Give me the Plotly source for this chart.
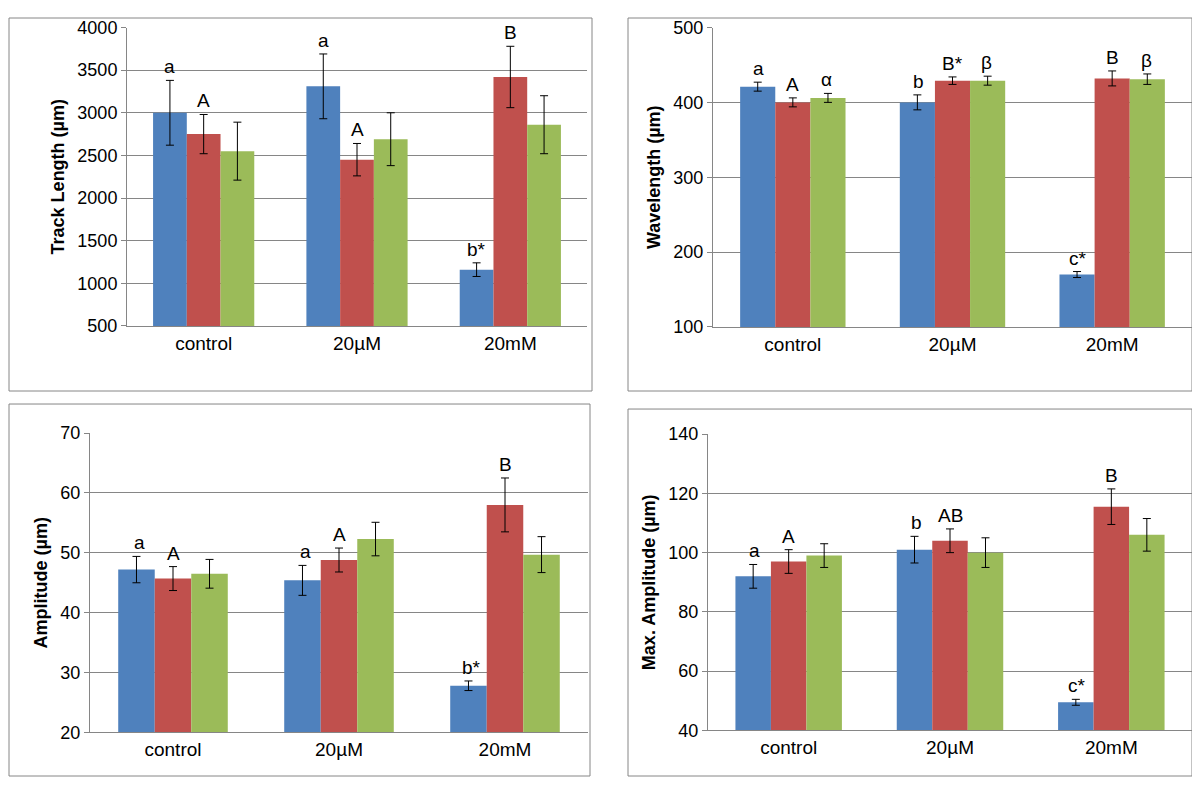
import plotly.graph_objects as go

groups = ["control", "20µM", "20mM"]
colors = ["#4F81BD", "#C0504D", "#9BBB59"]

track = [[3000, 3310, 1160], [2750, 2450, 3420], [2550, 2690, 2860]]
track_err = [[380, 380, 80], [230, 190, 360], [340, 310, 340]]
track_lbl = [["a", "a", "b*"], ["A", "A", "B"], ["", "", ""]]

wave = [[421, 400, 170], [400, 429, 432], [406, 429, 431]]
wave_err = [[6, 10, 4], [6, 5, 10], [6, 6, 7]]
wave_lbl = [["a", "b", "c*"], ["A", "B*", "B"], ["α", "β", "β"]]

amp = [[47.2, 45.4, 27.8], [45.7, 48.8, 58.0], [46.5, 52.3, 49.7]]
amp_err = [[2.2, 2.5, 0.8], [2.0, 2.0, 4.5], [2.4, 2.8, 3.0]]
amp_lbl = [["a", "a", "b*"], ["A", "A", "B"], ["", "", ""]]

maxamp = [[92, 101, 49.5], [97, 104, 115.5], [99, 100, 106]]
maxamp_err = [[4, 4.5, 1], [4, 4, 6], [4, 5, 5.5]]
maxamp_lbl = [["a", "b", "c*"], ["A", "AB", "B"], ["", "", ""]]

# page has a body margin; positions below are screen pixels, mapped to paper fractions
W, H, OFF = 1184, 778, 8


def fx(p):
    return min(1.0, max(0.0, (p - OFF) / W))


def fy(p):
    p = (p - 9.7) / 0.973
    return min(1.0, max(0.0, 1 - (p - OFF) / H))


# plot area (x0, x1, ytop, ybottom) and panel box in screen pixels
panels = [
    (track, track_err, track_lbl, "Track Length (µm)", [500, 4000], 500,
     (127, 587, 27, 325), (9, 592, 0, 390)),
    (wave, wave_err, wave_lbl, "Wavelength (µm)", [100, 500], 100,
     (713, 1195, 27, 326), (628, 1198, 0, 390)),
    (amp, amp_err, amp_lbl, "Amplitude (µm)", [20, 70], 10,
     (90, 588, 432, 731), (9, 590, 403, 794)),
    (maxamp, maxamp_err, maxamp_lbl, "Max. Amplitude (µm)", [40, 140], 20,
     (708, 1195, 433, 729), (628, 1198, 408, 794)),
]

font = "Liberation Sans"
fig = go.Figure()
layout = {}
shapes = []
annotations = []
for i, (vals, errs, lbls, title, yr, dt, area, box) in enumerate(panels):
    n = "" if i == 0 else str(i + 1)
    xa, ya = "x" + n, "y" + n
    for s in range(3):
        fig.add_trace(go.Bar(
            x=groups, y=vals[s], xaxis=xa, yaxis=ya,
            marker=dict(color=colors[s], line=dict(width=0)),
            error_y=dict(type="data", array=errs[s], color="black", thickness=1, width=4),
            showlegend=False, offsetgroup=str(s)))
        for g in range(3):
            if lbls[s][g]:
                annotations.append(dict(
                    x=groups[g], y=vals[s][g] + errs[s][g], xref=xa, yref=ya,
                    text=lbls[s][g], showarrow=False, yanchor="bottom", yshift=1,
                    xshift=(s - 1) * 34, font=dict(size=19, family=font, color="black")))
    layout["xaxis" + n] = dict(domain=[fx(area[0]), fx(area[1])], anchor=ya, showline=True,
                               linecolor="#868686", ticks="",
                               tickfont=dict(size=19, family=font, color="black"))
    layout["yaxis" + n] = dict(domain=[fy(area[3]), fy(area[2])], anchor=xa, range=yr, dtick=dt,
                               showline=True, linecolor="#868686", ticks="outside",
                               tickcolor="#868686", showgrid=True, gridcolor="#868686",
                               zeroline=False,
                               tickfont=dict(size=18, family=font, color="black"),
                               title=dict(text="<b>" + title + "</b>", standoff=8,
                                          font=dict(size=18, family=font, color="black")))
    shapes.append(dict(type="rect", xref="paper", yref="paper", x0=fx(box[0]), x1=fx(box[1]),
                       y0=fy(box[3]), y1=fy(box[2]), line=dict(color="#868686", width=1)))

fig.update_layout(**layout, shapes=shapes, annotations=annotations,
                  width=W, height=H, margin=dict(l=0, r=0, t=0, b=0),
                  bargap=0.34, bargroupgap=0, barmode="group",
                  plot_bgcolor="white", paper_bgcolor="white")
fig.write_html("out.html")
